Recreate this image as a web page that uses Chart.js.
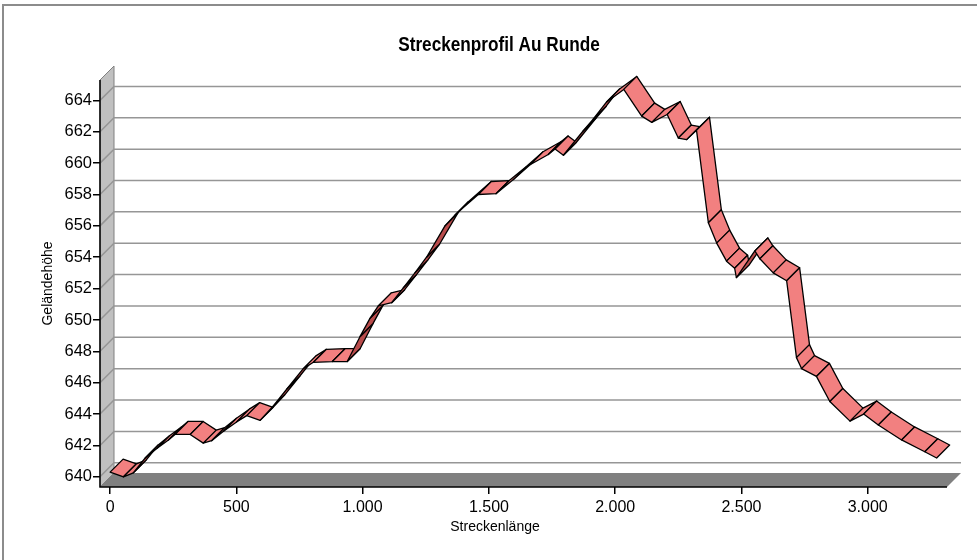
<!DOCTYPE html>
<html>
<head>
<meta charset="utf-8">
<script src="https://cdn.jsdelivr.net/npm/chart.js@4.4.1/dist/chart.umd.min.js"></script>
<style>
  body { margin: 0; background: #fff; }
  canvas { display: block; }
</style>
</head>
<body>
<canvas id="profil" width="977" height="560"></canvas>
<script>
// Streckenlänge (m) und Geländehöhe (m)
const distanz = [0, 53, 92, 139, 185, 231, 257, 317, 369, 402,
    449, 501, 541, 594, 640, 700, 765, 805, 880, 939,
    990, 1029, 1062, 1115, 1161, 1207, 1253, 1326, 1366, 1458,
    1528, 1597, 1663, 1735, 1762, 1795, 1873, 1913, 1966, 2034,
    2105, 2145, 2206, 2250, 2283, 2322, 2369, 2402, 2441, 2473,
    2480, 2553, 2573, 2626, 2679, 2718, 2738, 2797, 2850, 2930,
    2984, 3042, 3134, 3226, 3273];
const hoehe = [640.3, 640.0, 640.25, 641.2, 641.8, 642.35, 642.7, 642.7, 642.15, 642.3,
    642.9, 643.5, 643.9, 643.6, 644.4, 645.6, 646.9, 647.3, 647.35, 647.35,
    648.95, 650.1, 650.9, 651.1, 652.05, 653.0, 654.0, 656.0, 656.7, 658.0,
    658.05, 658.95, 659.9, 660.55, 660.9, 660.5, 662.05, 662.8, 663.9, 664.7,
    663.0, 662.6, 663.1, 661.6, 661.5, 662.1, 656.2, 654.9, 653.75, 653.3,
    652.7, 654.4, 653.9, 653.0, 652.5, 647.6, 646.9, 646.4, 644.8, 643.55,
    644.0, 643.3, 642.35, 641.6, 641.2];
const xTicks = [0, 500, 1000, 1500, 2000, 2500, 3000];
const yTicks = [640, 642, 644, 646, 648, 650, 652, 654, 656, 658, 660, 662, 664];

const TIEFE = 14;          // Tiefe der Wände (px)
const BAND = 13;           // Breite des Bandes (px)
const schrift = "'Liberation Sans', Arial, sans-serif";

function tausender(v) {
    return String(v).replace(/\B(?=(\d{3})+(?!\d))/g, '.');
}

// 3D-Rahmen: Wand, Boden, Gitterlinien, Band und Texte
const dreiD = {
    id: 'dreiD',
    beforeDraw(chart) {
        const ctx = chart.ctx;
        const a = chart.chartArea;
        const ys = chart.scales.y;
        ctx.save();
        // äußerer Rahmen
        ctx.strokeStyle = '#8c8c8c';
        ctx.lineWidth = 2;
        ctx.strokeRect(3, 5, 990, 600);

        // linke Wand
        ctx.fillStyle = '#c0c0c0';
        ctx.beginPath();
        ctx.moveTo(a.left, a.top);
        ctx.lineTo(a.left + TIEFE, a.top - TIEFE);
        ctx.lineTo(a.left + TIEFE, a.bottom - TIEFE);
        ctx.lineTo(a.left, a.bottom);
        ctx.closePath();
        ctx.fill();
        ctx.strokeStyle = '#808080';
        ctx.lineWidth = 1;
        ctx.stroke();

        // Boden
        ctx.fillStyle = '#808080';
        ctx.beginPath();
        ctx.moveTo(a.left, a.bottom);
        ctx.lineTo(a.left + TIEFE, a.bottom - TIEFE);
        ctx.lineTo(a.right + TIEFE, a.bottom - TIEFE);
        ctx.lineTo(a.right, a.bottom);
        ctx.closePath();
        ctx.fill();

        // Gitterlinien
        ctx.strokeStyle = '#969696';
        ctx.lineWidth = 1.5;
        yTicks.forEach(v => {
            const y = ys.getPixelForValue(v);
            ctx.beginPath();
            ctx.moveTo(a.left, y);
            ctx.lineTo(a.left + TIEFE, y - TIEFE);
            ctx.lineTo(a.right + TIEFE, y - TIEFE);
            ctx.stroke();
        });

        // Achsenlinien
        ctx.strokeStyle = '#000';
        ctx.lineWidth = 1.5;
        ctx.beginPath();
        ctx.moveTo(a.left, a.top);
        ctx.lineTo(a.left, a.bottom);
        ctx.lineTo(a.right, a.bottom);
        ctx.stroke();
        ctx.restore();
    },
    afterDatasetsDraw(chart) {
        const ctx = chart.ctx;
        const pts = chart.getDatasetMeta(0).data;
        ctx.save();
        ctx.lineJoin = 'round';
        ctx.strokeStyle = '#000';
        ctx.lineWidth = 1.3;
        for (let i = 0; i < pts.length - 1; i++) {
            const p = pts[i], q = pts[i + 1];
            const vx = q.x - p.x, vy = q.y - p.y;
            // Unterseite sichtbar, wenn steiler als 45° ansteigend
            ctx.fillStyle = (vx + vy < 0) ? '#b94c4c' : '#f28080';
            ctx.beginPath();
            ctx.moveTo(p.x, p.y);
            ctx.lineTo(q.x, q.y);
            ctx.lineTo(q.x + BAND, q.y - BAND);
            ctx.lineTo(p.x + BAND, p.y - BAND);
            ctx.closePath();
            ctx.fill();
            ctx.stroke();
        }
        ctx.restore();
    },
    afterDraw(chart) {
        const ctx = chart.ctx;
        ctx.save();
        ctx.fillStyle = '#000';
        ctx.textAlign = 'center';
        ctx.textBaseline = 'middle';
        ctx.font = '14px ' + schrift;
        ctx.fillText('Streckenlänge', 495, 527);
        // Titel schmal (Narrow-Schrift nachgebildet)
        ctx.translate(499, 45);
        ctx.scale(0.86, 1);
        ctx.font = 'bold 20px ' + schrift;
        ctx.fillText('Streckenprofil Au Runde', 0, 0);
        ctx.restore();
    }
};

new Chart(document.getElementById('profil'), {
    type: 'line',
    data: {
        datasets: [{
            label: 'Geländehöhe',
            data: distanz.map((d, i) => ({ x: d, y: hoehe[i] })),
            showLine: false,
            pointRadius: 0
        }]
    },
    options: {
        responsive: false,
        animation: false,
        layout: { padding: { top: 80, right: 30, left: 0, bottom: 0 }, autoPadding: false },
        plugins: {
            legend: { display: false },
            tooltip: { enabled: false }
        },
        scales: {
            x: {
                type: 'linear',
                min: -40,
                max: 3314,
                afterBuildTicks: s => { s.ticks = xTicks.map(v => ({ value: v })); },
                afterFit: s => { s.height = 73; },
                grid: { drawOnChartArea: false, drawTicks: true, tickLength: 7, color: '#000', lineWidth: 1.5 },
                border: { display: false },
                ticks: {
                    color: '#000',
                    padding: 4,
                    maxRotation: 0,
                    font: { family: schrift, size: 16 },
                    callback: v => tausender(v)
                }
            },
            y: {
                type: 'linear',
                min: 639.35,
                max: 665.3,
                afterBuildTicks: s => { s.ticks = yTicks.map(v => ({ value: v })); },
                afterFit: s => { s.width = 100; },
                grid: { drawOnChartArea: false, drawTicks: true, tickLength: 7, color: '#000', lineWidth: 1.5 },
                border: { display: false },
                title: {
                    display: true,
                    text: 'Geländehöhe',
                    color: '#000',
                    font: { family: schrift, size: 14 },
                    padding: { top: 40, bottom: 0 }
                },
                ticks: {
                    color: '#000',
                    padding: 1,
                    font: { family: schrift, size: 16.5 },
                    callback: v => String(v)
                }
            }
        }
    },
    plugins: [dreiD]
});
</script>
</body>
</html>
